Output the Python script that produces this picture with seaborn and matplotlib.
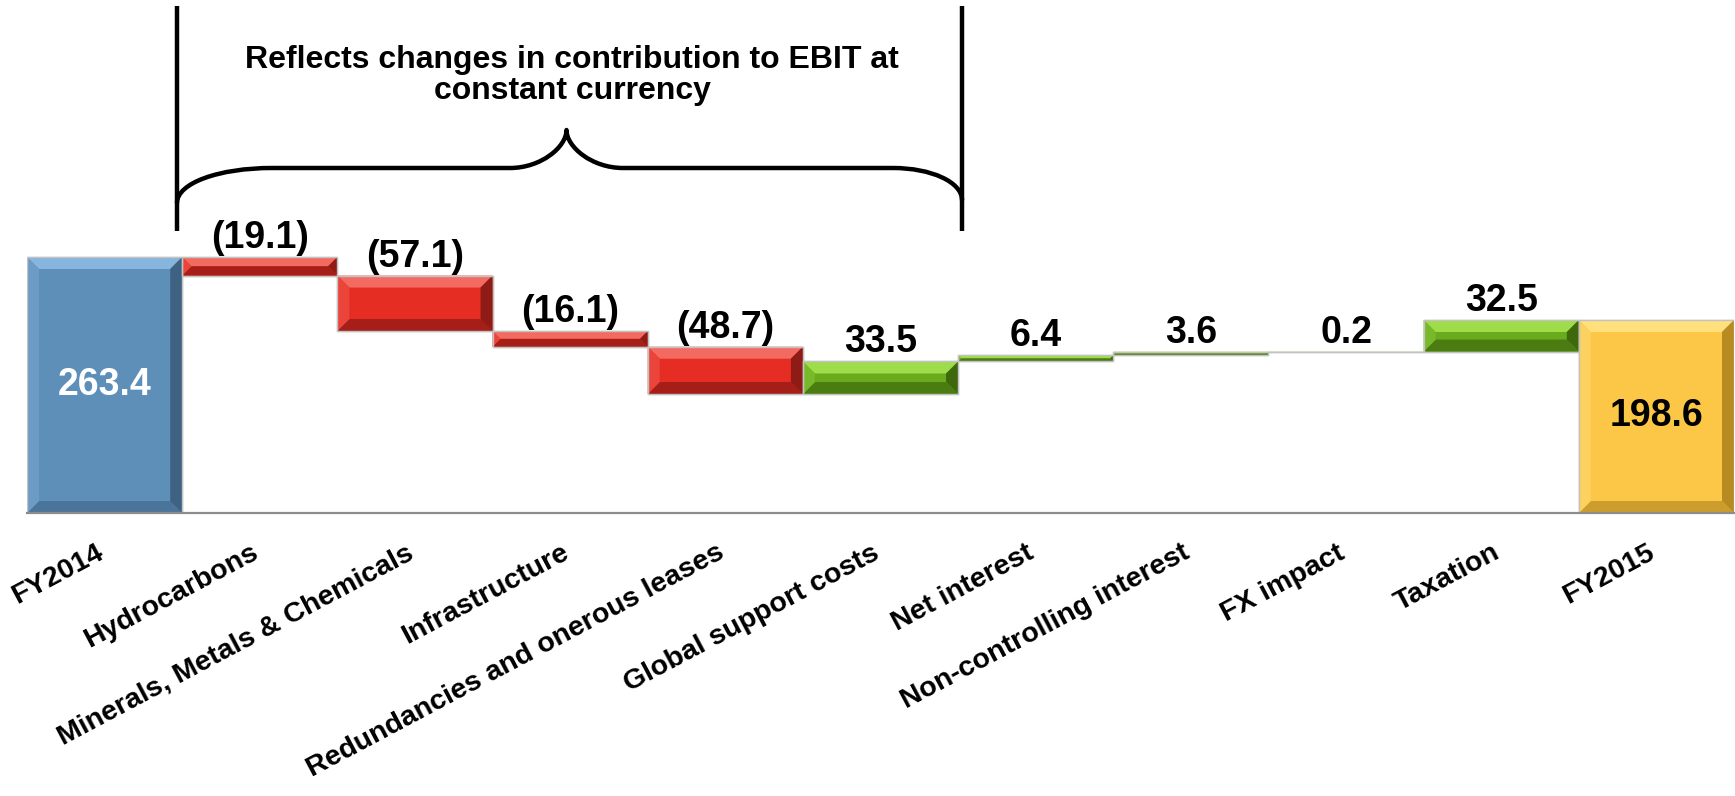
import numpy as np
import pandas as pd
import matplotlib
matplotlib.use("Agg")
import matplotlib.pyplot as plt
import seaborn as sns
from matplotlib.patches import Polygon, Rectangle, PathPatch
from matplotlib.path import Path

# ---- data -----------------------------------------------------------------
categories = [
    "FY2014", "Hydrocarbons", "Minerals, Metals & Chemicals", "Infrastructure",
    "Redundancies and onerous leases", "Global support costs", "Net interest",
    "Non-controlling interest", "FX impact", "Taxation", "FY2015",
]
opening_total = 263.4
changes = [-19.1, -57.1, -16.1, -48.7, 33.5, 6.4, 3.6, 0.2, 32.5]
closing_total = 198.6
value_labels = ["263.4", "(19.1)", "(57.1)", "(16.1)", "(48.7)", "33.5",
                "6.4", "3.6", "0.2", "32.5", "198.6"]
bracket_text = ["Reflects changes in contribution to EBIT at", "constant currency"]

# ---- waterfall geometry ---------------------------------------------------
levels = opening_total + np.cumsum(changes)
prev = np.concatenate([[opening_total], levels[:-1]])
bottoms = [0.0] + list(np.minimum(prev, levels)) + [0.0]
heights = [opening_total] + list(np.abs(changes)) + [closing_total]
kinds = ["start"] + ["down" if c < 0 else "up" for c in changes] + ["end"]

palette = {
    # face, top bevel, bottom bevel, left bevel, right bevel
    "start": ("#5d8fb9", "#86b5de", "#4a7499", "#6c9cc6", "#3f6282"),
    "down":  ("#e52d24", "#f26a60", "#a51f18", "#ea443b", "#8e1b15"),
    "up":    ("#6aab1e", "#9fdc4a", "#4b7c12", "#78b92a", "#3f680d"),
    "end":   ("#fcc747", "#ffe07c", "#cc9c2c", "#fdd160", "#b78a22"),
}

# ---- figure ---------------------------------------------------------------
sns.set_style("white")
plt.rcParams["font.family"] = ["Liberation Sans", "DejaVu Sans"]

W, H = 1735, 796
fig = plt.figure(figsize=(W / 100, H / 100), dpi=100)
base_px = 513
ax = fig.add_axes([27 / W, (H - base_px) / H, (1734 - 27) / W, base_px / H])

df = pd.DataFrame({"item": categories, "height": heights})
sns.barplot(data=df, x="item", y="height", order=categories, bottom=bottoms,
            width=1.0, errorbar=None, color="#888888", edgecolor="#c2c2c2",
            linewidth=1.0, ax=ax, zorder=2)

px_per_unit = 256 / opening_total
ax.set_xlim(-0.5, len(categories) - 0.5)
ax.set_ylim(0, base_px / px_per_unit)

for s in ["top", "left", "right"]:
    ax.spines[s].set_visible(False)
ax.spines["bottom"].set_color("#8c8c8c")
ax.spines["bottom"].set_linewidth(1.6)
ax.spines["bottom"].set_zorder(5)
ax.set_yticks([])
ax.set_xlabel("")
ax.set_ylabel("")

# bevelled faces on each bar
fig.canvas.draw()
inv = ax.transData.inverted()
bars = [p for p in ax.patches if isinstance(p, Rectangle)]
for p, kind in zip(bars, kinds):
    face, top_c, bot_c, left_c, right_c = palette[kind]
    p.set_facecolor(face)
    x0, y0 = p.get_x(), p.get_y()
    x1, y1 = x0 + p.get_width(), y0 + p.get_height()
    (X0, Y0), (X1, Y1) = ax.transData.transform([(x0, y0), (x1, y1)])
    b = min(12.0, (Y1 - Y0) / 2.0, (X1 - X0) / 2.0)
    quads = [
        ([(X0, Y1), (X1, Y1), (X1 - b, Y1 - b), (X0 + b, Y1 - b)], top_c),
        ([(X0, Y0), (X1, Y0), (X1 - b, Y0 + b), (X0 + b, Y0 + b)], bot_c),
        ([(X0, Y0), (X0 + b, Y0 + b), (X0 + b, Y1 - b), (X0, Y1)], left_c),
        ([(X1, Y0), (X1 - b, Y0 + b), (X1 - b, Y1 - b), (X1, Y1)], right_c),
    ]
    for pts, c in quads:
        ax.add_patch(Polygon(inv.transform(pts), closed=True, facecolor=c,
                             edgecolor="none", zorder=3))
    ax.add_patch(Rectangle((x0, y0), x1 - x0, y1 - y0, fill=False,
                           edgecolor="#c2c2c2", linewidth=1.0, zorder=4))

# value labels
for p, kind, txt in zip(bars, kinds, value_labels):
    cx = p.get_x() + p.get_width() / 2
    if kind in ("start", "end"):
        ax.text(cx, p.get_y() + p.get_height() / 2, txt, ha="center", va="center",
                fontsize=27, fontweight="bold",
                color="white" if kind == "start" else "black", zorder=6)
    else:
        ax.annotate(txt, (cx, p.get_y() + p.get_height()), xytext=(0, 6.5),
                    textcoords="offset points", ha="center", va="baseline",
                    fontsize=27, fontweight="bold", color="black", zorder=6)

# category labels
ax.tick_params(axis="x", length=0, pad=32)
ax.set_xticks(range(len(categories)))
ax.set_xticklabels(categories, rotation=28, ha="right", va="baseline",
                   rotation_mode="anchor", fontsize=20.5, fontweight="bold",
                   color="black")

# bracket with curly brace over the contribution items
def fx(x):
    return x / W


def fy(y):
    return 1 - y / H


lw = 3.2
for xv in (177, 962):
    fig.add_artist(plt.Line2D([fx(xv), fx(xv)], [fy(6), fy(231)],
                              transform=fig.transFigure, color="black",
                              linewidth=lw, solid_capstyle="butt"))

verts = [
    (177, 203), (177, 183), (219, 168), (272, 168),
    (510, 168),
    (541, 168), (566.5, 147), (566.5, 130),
    (566.5, 147), (592, 168), (623, 168),
    (893, 168),
    (931, 168), (962, 182), (962, 200),
]
codes = ([Path.MOVETO] + [Path.CURVE4] * 3 + [Path.LINETO] + [Path.CURVE4] * 6
         + [Path.LINETO] + [Path.CURVE4] * 3)
brace = Path([(fx(x), fy(y)) for x, y in verts], codes)
fig.add_artist(PathPatch(brace, transform=fig.transFigure, facecolor="none",
                         edgecolor="black", linewidth=lw, capstyle="round",
                         joinstyle="round"))

fig.text(fx(572), fy(68), bracket_text[0], ha="center", va="baseline",
         fontsize=23, fontweight="bold", color="black")
fig.text(fx(572), fy(99), bracket_text[1], ha="center", va="baseline",
         fontsize=23, fontweight="bold", color="black")

fig.savefig("out.png", dpi=100)
